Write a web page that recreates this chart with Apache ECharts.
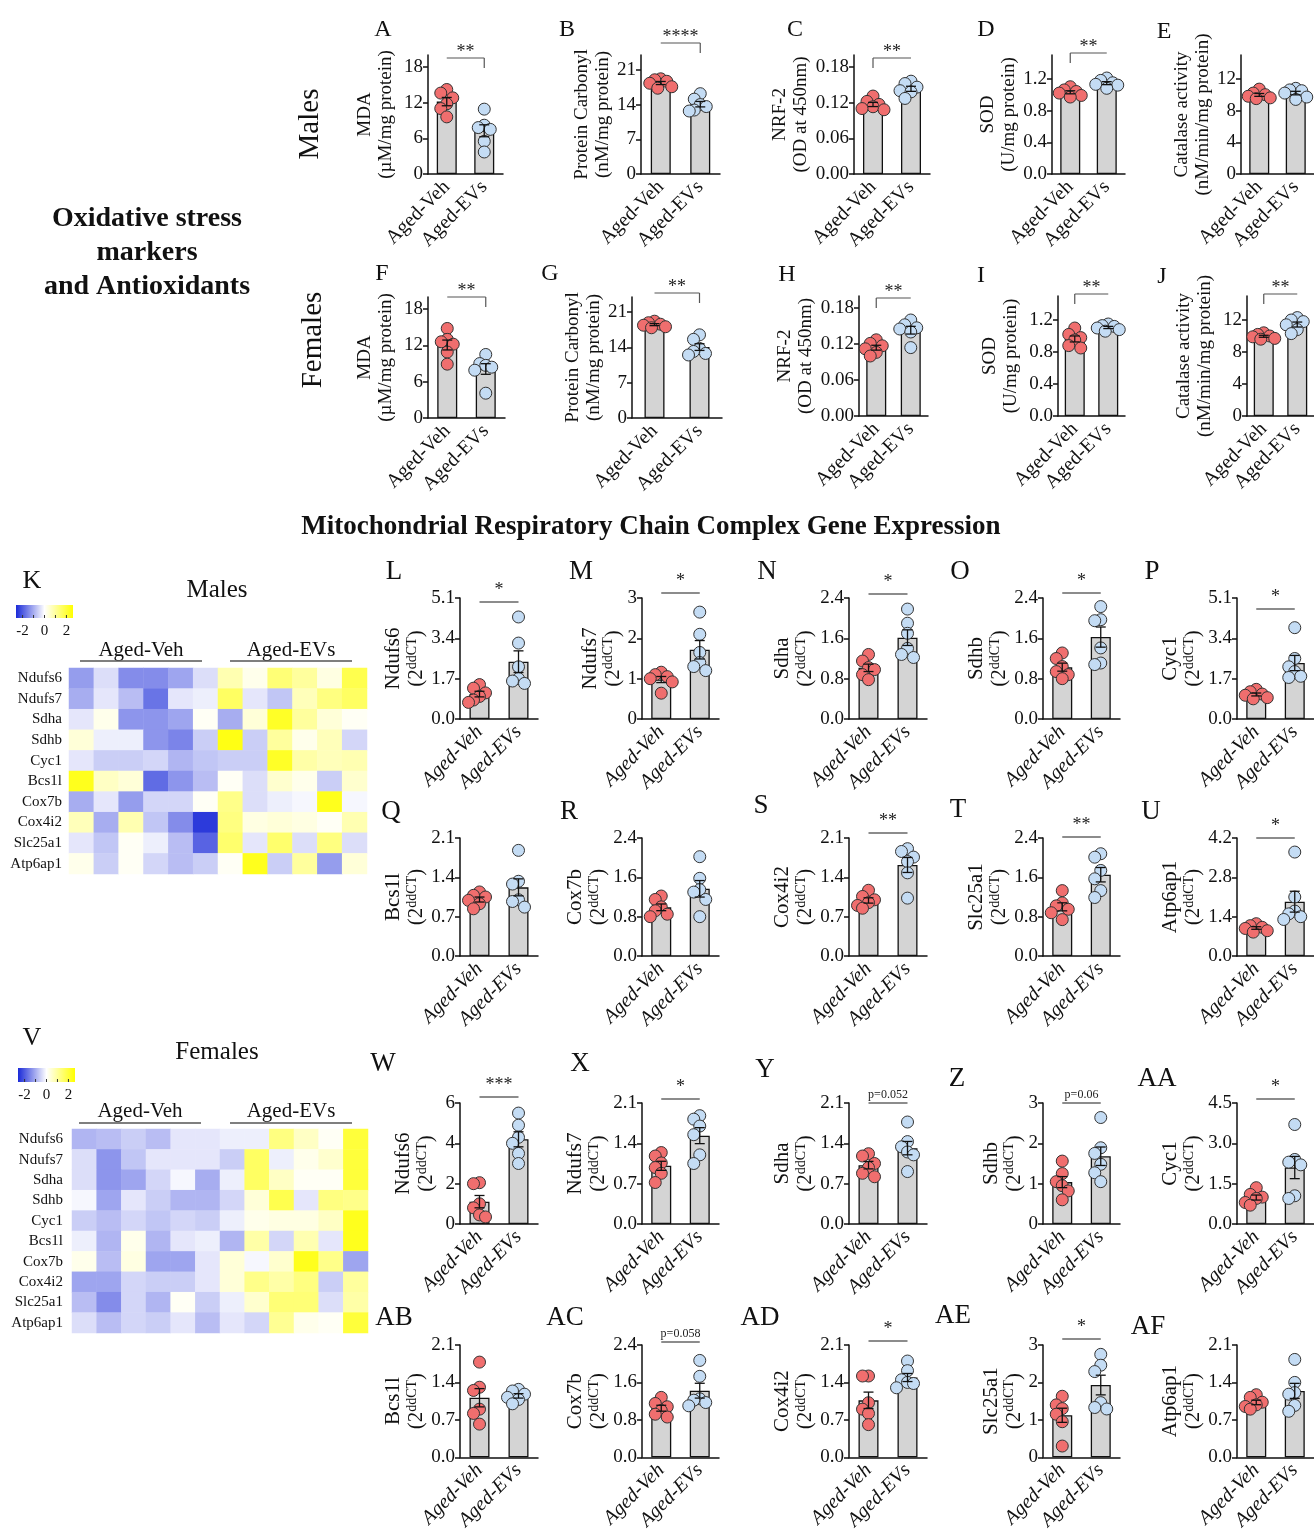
<!DOCTYPE html>
<html><head><meta charset="utf-8">
<script src="https://cdn.jsdelivr.net/npm/echarts@6/dist/echarts.min.js"></script>
<style>html,body{margin:0;padding:0;background:#fff}#c{width:1314px;height:1533px}</style>
</head><body><div id="c"></div>
<script>
// ---------------- DATA ----------------
const groups = ['Aged-Veh', 'Aged-EVs'];
const oxMeasures = ['MDA', 'Protein Carbonyl', 'NRF-2', 'SOD', 'Catalase activity'];
const oxUnits = ['(µM/mg protein)', '(nM/mg protein)', '(OD at 450nm)', '(U/mg protein)', '(nM/min/mg protein)'];
const genes = ['Ndufs6', 'Ndufs7', 'Sdha', 'Sdhb', 'Cyc1', 'Bcs1l', 'Cox7b', 'Cox4i2', 'Slc25a1', 'Atp6ap1'];
const panelLetters = ['A','B','C','D','E','F','G','H','I','J','L','M','N','O','P','Q','R','S','T','U','W','X','Y','Z','AA','AB','AC','AD','AE','AF'];

// Oxidative stress – males
const A_veh = [14.2, 13.6, 12.8, 11.8, 11.0, 9.6];   const A_evs = [10.9, 8.2, 7.8, 7.5, 5.5, 3.7];
const B_veh = [19.2, 19.0, 18.7, 18.3, 17.6, 17.3];  const B_evs = [16.2, 15.1, 14.0, 13.6, 12.9, 12.7];
const C_veh = [0.131, 0.122, 0.117, 0.113, 0.110, 0.108]; const C_evs = [0.156, 0.152, 0.146, 0.140, 0.138, 0.127];
const D_veh = [1.10, 1.06, 1.04, 1.02, 0.99, 0.97];  const D_evs = [1.21, 1.18, 1.15, 1.13, 1.12, 1.08];
const E_veh = [10.7, 10.2, 10.0, 9.8, 9.6, 9.5];     const E_evs = [10.8, 10.6, 10.5, 10.2, 9.7, 9.4];
// Oxidative stress – females
const F_veh = [14.8, 13.0, 12.6, 12.2, 10.9, 8.9];   const F_evs = [10.5, 9.0, 8.7, 8.4, 7.9, 4.1];
const G_veh = [19.2, 18.9, 18.6, 18.4, 18.1, 17.9];  const G_evs = [16.5, 15.6, 13.8, 13.2, 12.8, 12.5];
const H_veh = [0.127, 0.121, 0.117, 0.112, 0.106, 0.100]; const H_evs = [0.160, 0.152, 0.147, 0.145, 0.140, 0.114];
const I_veh = [1.10, 1.02, 0.98, 0.95, 0.88, 0.85];  const I_evs = [1.15, 1.13, 1.12, 1.10, 1.08, 1.06];
const J_veh = [10.4, 10.2, 10.0, 9.9, 9.7, 9.6];     const J_evs = [12.3, 12.0, 11.8, 11.4, 10.8, 10.3];
// Gene expression – males
const L_veh = [1.45, 1.30, 1.10, 0.95, 0.80, 0.70];  const L_evs = [4.3, 3.2, 2.2, 1.7, 1.5, 1.6];
const M_veh = [1.16, 1.10, 1.05, 1.00, 0.92, 0.64];  const M_evs = [2.65, 2.10, 1.65, 1.40, 1.30, 1.20];
const N_veh = [1.28, 1.15, 1.02, 0.98, 0.88, 0.78];  const N_evs = [2.18, 1.90, 1.70, 1.40, 1.28, 1.22];
const O_veh = [1.31, 1.20, 1.04, 0.94, 0.88, 0.80];  const O_evs = [2.23, 1.97, 1.95, 1.41, 1.11, 1.08];
const P_veh = [1.25, 1.15, 1.05, 1.00, 0.90, 0.85];  const P_evs = [3.85, 2.55, 2.20, 2.00, 1.80, 1.75];
const Q_veh = [1.14, 1.08, 1.05, 0.99, 0.93, 0.84];  const Q_evs = [1.88, 1.33, 1.28, 1.00, 0.97, 0.87];
const R_veh = [1.22, 1.15, 1.00, 0.92, 0.85, 0.80];  const R_evs = [2.02, 1.58, 1.35, 1.30, 1.15, 0.80];
const S_veh = [1.17, 1.06, 1.00, 0.95, 0.90, 0.85];  const S_evs = [1.91, 1.86, 1.76, 1.68, 1.48, 1.03];
const T_veh = [1.33, 1.08, 1.02, 0.95, 0.88, 0.74];  const T_evs = [2.08, 2.01, 1.74, 1.57, 1.33, 1.19];
const U_veh = [1.15, 1.08, 1.02, 0.98, 0.90, 0.85];  const U_evs = [3.7, 2.1, 1.6, 1.5, 1.4, 1.3];
// Gene expression – females
const W_veh = [2.05, 2.00, 1.00, 0.80, 0.45, 0.35];  const W_evs = [5.5, 4.9, 4.3, 4.0, 3.5, 3.0];
const X_veh = [1.24, 1.18, 1.06, 0.98, 0.88, 0.72];  const X_evs = [1.88, 1.82, 1.70, 1.55, 1.20, 1.05];
const Y_veh = [1.22, 1.18, 1.05, 0.98, 0.88, 0.82];  const Y_evs = [1.77, 1.43, 1.34, 1.25, 1.20, 0.91];
const Z_veh = [1.56, 1.25, 1.05, 0.95, 0.82, 0.60];  const Z_evs = [2.64, 1.89, 1.75, 1.48, 1.27, 1.05];
const AA_veh = [1.35, 1.10, 1.00, 0.95, 0.80, 0.70]; const AA_evs = [3.7, 2.4, 2.3, 2.2, 1.05, 0.95];
const AB_veh = [1.78, 1.31, 1.25, 0.90, 0.82, 0.62]; const AB_evs = [1.27, 1.24, 1.18, 1.12, 1.08, 1.00];
const AC_veh = [1.28, 1.15, 1.08, 1.00, 0.92, 0.86]; const AC_evs = [2.07, 1.73, 1.25, 1.22, 1.17, 1.10];
const AD_veh = [1.52, 1.52, 1.02, 0.90, 0.82, 0.61]; const AD_evs = [1.80, 1.62, 1.45, 1.40, 1.38, 1.30];
const AE_veh = [1.63, 1.40, 1.30, 1.15, 0.95, 0.30]; const AE_evs = [2.75, 2.46, 2.29, 1.46, 1.33, 1.29];
const AF_veh = [1.17, 1.12, 1.03, 0.98, 0.95, 0.90]; const AF_evs = [1.83, 1.40, 1.21, 1.18, 0.97, 0.86];

// tick labels
const T_mda = ['0','6','12','18'];
const T_pc  = ['0','7','14','21'];
const T_nrf = ['0.00','0.06','0.12','0.18'];
const T_sod = ['0.0','0.4','0.8','1.2'];
const T_cat = ['0','4','8','12'];
const T_51  = ['0.0','1.7','3.4','5.1'];
const T_3   = ['0','1','2','3'];
const T_24  = ['0.0','0.8','1.6','2.4'];
const T_21  = ['0.0','0.7','1.4','2.1'];
const T_42  = ['0.0','1.4','2.8','4.2'];
const T_6   = ['0','2','4','6'];
const T_45  = ['0.0','1.5','3.0','4.5'];

const yTickSets = [T_mda,T_pc,T_nrf,T_sod,T_cat, T_mda,T_pc,T_nrf,T_sod,T_cat,
  T_51,T_3,T_24,T_24,T_51, T_21,T_24,T_21,T_24,T_42, T_6,T_21,T_21,T_3,T_45, T_21,T_24,T_21,T_3,T_21];
const yMaxes = [20,24,0.2,1.5,15, 20,24,0.2,1.5,15, 5.1,3,2.4,2.4,5.1, 2.1,2.4,2.1,2.4,4.2, 6,2.1,2.1,3,4.5, 2.1,2.4,2.1,3,2.1];
const sigMarks = ['**','****','**','**','', '**','**','**','**','**',
  '*','*','*','*','*', '','','**','**','*', '***','*','p=0.052','p=0.06','*', '','p=0.058','*','*',''];

const vehSets = [A_veh,B_veh,C_veh,D_veh,E_veh,F_veh,G_veh,H_veh,I_veh,J_veh,L_veh,M_veh,N_veh,O_veh,P_veh,Q_veh,R_veh,S_veh,T_veh,U_veh,W_veh,X_veh,Y_veh,Z_veh,AA_veh,AB_veh,AC_veh,AD_veh,AE_veh,AF_veh];
const evsSets = [A_evs,B_evs,C_evs,D_evs,E_evs,F_evs,G_evs,H_evs,I_evs,J_evs,L_evs,M_evs,N_evs,O_evs,P_evs,Q_evs,R_evs,S_evs,T_evs,U_evs,W_evs,X_evs,Y_evs,Z_evs,AA_evs,AB_evs,AC_evs,AD_evs,AE_evs,AF_evs];

// heatmaps (z-scores), rows = genes, cols = 6 Aged-Veh + 6 Aged-EVs
const maleHeat = [
  [-1.2,-0.4,-1.4,-1.4,-1.1,-0.4, 0.8, 0.2, 1.4, 1.0, 0.3, 1.8],
  [-1.0,-0.3,-0.8,-1.7,-0.3,-0.2, 1.6,-0.3,-0.7, 0.7, 1.3, 1.6],
  [-0.3, 0.2,-1.3,-1.3,-1.1, 0.1,-1.0, 0.4, 2.2, 1.0, 0.4, 0.1],
  [ 0.4,-0.2,-0.2,-1.3,-1.5,-0.6, 2.4,-0.6, 1.0, 0.2, 0.7,-0.5],
  [-0.3,-0.6,-0.6,-0.5,-0.9,-0.7,-0.6,-0.6, 2.2, 0.9, 0.7, 0.8],
  [ 2.3, 0.6, 0.4,-1.8,-1.3,-0.8, 0.1,-0.4, 0.5, 0.2,-0.6, 0.5],
  [-1.0,-0.3,-1.2,-0.5,-0.5, 0.1, 1.2,-0.4,-0.2,-0.1, 2.3,-0.1],
  [ 0.7,-1.0, 0.8,-0.7,-1.4,-2.4, 1.3, 0.3, 0.4, 0.3, 0.1, 0.8],
  [-0.3,-0.7, 0.1,-0.2,-0.8,-1.9, 1.5,-0.3, 1.5,-0.4, 1.3,-0.4],
  [ 0.2,-0.6, 0.1,-0.5,-0.8,-0.6, 0.1, 2.3,-0.6, 1.0,-1.2, 0.4]
];
const femaleHeat = [
  [-0.9,-0.8,-0.6,-0.8,-0.3,-0.3,-0.2,-0.2, 1.3, 0.6, 0.1, 2.0],
  [-0.4,-1.3,-0.7,-0.3,-0.3,-0.3,-0.6, 1.6,-0.2, 0.2, 0.5, 2.0],
  [-0.4,-1.3,-1.1,-0.5,-0.1,-1.0,-0.2, 1.6, 0.6, 0.1, 0.1, 2.0],
  [-0.1,-1.1,-0.3,-0.6,-0.9,-0.9,-0.5, 0.4, 1.8,-0.3, 1.3, 1.2],
  [-0.6,-0.8,-0.5,-0.7,-0.5,-0.6,-0.2, 0.2, 0.3, 0.3, 0.6, 2.3],
  [-0.2,-0.9, 0.2,-0.9,-0.3,-0.2,-0.9, 0.9,-0.5, 0.8,-0.3, 2.3],
  [ 0.2,-0.8, 0.3,-1.1,-1.1,-0.3, 0.4,-0.1, 0.5, 2.3, 1.2,-1.1],
  [-1.1,-1.1,-0.5,-0.6,-0.6,-0.3, 0.4, 1.2, 0.9, 1.3,-0.6, 1.0],
  [-0.8,-1.4,-0.5,-0.9, 0.1,-0.6,-0.2, 0.5, 1.4, 1.4,-0.4, 0.9],
  [-0.4,-0.8,-0.5,-0.6,-0.3,-0.8,-0.3,-0.5, 1.1, 0.2, 0.1, 2.0]
];
const heatTicks = ['-2', '0', '2'];

// ---------------- LAYOUT (pixels) ----------------
// [axisX, rightX, topY, bottomY, nameGap, bracketLift, letterX, letterY]
const layout = [
  [428,503,55,174,31,-3,383,30],[641,720,55,174,24,12,567,30],[854,930,55,174,40,-3,795,30],[1052,1125,55,174,32,2,986,30],[1241,1314,55,174,27,0,1164,32],
  [428,505,297,418,31,0,382,274],[632,722,297,418,24,4,550,274],[859,928,296,416,42,-2,787,275],[1058,1125,296,416,36,2,981,276],[1247,1314,296,416,31,2,1162,277],
  [460,538,598,719,22,-4,394,572],[642,719,598,719,12,5,581,572],[849,927,598,719,14,4,767,572],[1043,1120,598,719,16,5,960,572],[1237,1314,598,719,17,-11,1152,572],
  [460,538,838,956,22,0,391,812],[642,719,838,956,23,0,569,812],[849,927,838,956,14,5,761,806],[1043,1120,838,956,16,1,958,810],[1237,1314,838,956,17,0,1151,812],
  [460,538,1103,1224,22,6,383,1064],[642,719,1103,1224,23,4,580,1064],[849,927,1103,1224,14,0,765,1070],[1043,1120,1103,1224,10,0,957,1079],[1237,1314,1103,1224,17,4,1157,1079],
  [460,538,1345,1465,22,0,394,1318],[642,719,1345,1465,23,3,565,1318],[849,927,1345,1465,14,4,760,1318],[1043,1120,1345,1465,10,6,953,1316],[1237,1314,1345,1465,17,0,1148,1327]
];

const SERIF = "'Liberation Serif', 'Times New Roman', serif";
const INK = '#111';
const RED = '#f06e6e', BLUE = '#c4dcf4';

const meanOf = a => a.reduce((s, v) => s + v, 0) / a.length;
const semOf = a => { const m = meanOf(a); return Math.sqrt(a.reduce((s, v) => s + (v - m) ** 2, 0) / (a.length - 1)) / Math.sqrt(a.length); };
function swarm(vals, pxPerUnit) {
  const order = vals.map((v, i) => i).sort((a, b) => vals[b] - vals[a]);
  const offs = new Array(vals.length).fill(0);
  const seq = [0, -6, 6, -11, 11, -3, 3];
  const placed = [];
  order.forEach(i => {
    const used = placed.filter(j => Math.abs(vals[i] - vals[j]) * pxPerUnit < 10).map(j => offs[j]);
    const o = seq.find(s => !used.includes(s));
    offs[i] = o === undefined ? 0 : o;
    placed.push(i);
  });
  return offs;
}

const grids = [], xAxes = [], yAxes = [], series = [], graphics = [];
const axisStyle = { color: INK, width: 1.5 };

panelLetters.forEach((letter, k) => {
  const L = layout[k];
  const isTop = k < 10;
  const veh = vehSets[k], evs = evsSets[k];
  const ticksTxt = yTickSets[k];
  const ticks = ticksTxt.map(Number);
  const yMax = yMaxes[k];
  const h = L[3] - L[2];
  grids.push({ left: L[0], top: L[2], width: L[1] - L[0], height: h });
  xAxes.push({
    gridIndex: k, type: 'category', data: groups, boundaryGap: true,
    axisLine: { lineStyle: axisStyle },
    axisTick: { alignWithLabel: true, length: 5, lineStyle: axisStyle },
    axisLabel: { interval: 0, rotate: 45, margin: 10, color: INK, fontFamily: SERIF, fontSize: 20, fontStyle: isTop ? 'normal' : 'italic' }
  });
  let name, nameTextStyle;
  if (isTop) {
    const i = k % 5;
    name = oxMeasures[i] + '\n' + oxUnits[i];
    nameTextStyle = { color: INK, fontFamily: SERIF, fontSize: 19, lineHeight: 21 };
  } else {
    const g = genes[(k - 10) % 10];
    name = '{a|' + g + '}\n{a|(2}{s|ddCT}{a|)}';
    nameTextStyle = { color: INK, fontFamily: SERIF, rich: {
      a: { fontSize: 21, fontFamily: SERIF, color: INK, lineHeight: 23 },
      s: { fontSize: 14, fontFamily: SERIF, color: INK, lineHeight: 12, verticalAlign: 'top' } } };
  }
  yAxes.push({
    gridIndex: k, type: 'value', min: 0, max: yMax,
    axisLine: { show: true, lineStyle: axisStyle },
    axisTick: { show: true, length: 5, lineStyle: axisStyle, customValues: ticks },
    axisLabel: { customValues: ticks, margin: 5, color: INK, fontFamily: SERIF, fontSize: 19,
      formatter: v => { const j = ticks.findIndex(t => Math.abs(t - v) < 1e-9); return j >= 0 ? ticksTxt[j] : ''; } },
    splitLine: { show: false },
    name, nameLocation: 'middle', nameGap: L[4], nameTextStyle
  });
  const means = [meanOf(veh), meanOf(evs)];
  const sems = [semOf(veh), semOf(evs)];
  series.push({
    type: 'bar', xAxisIndex: k, yAxisIndex: k, data: means, barWidth: 20, silent: true, z: 2,
    itemStyle: { color: '#d4d4d4', borderColor: INK, borderWidth: 1.3 }
  });
  const ppu = h / yMax;
  const offV = swarm(veh, ppu), offE = swarm(evs, ppu);
  const dots = [];
  veh.forEach((v, i) => dots.push({ value: [0, v], symbolOffset: [offV[i], 0], itemStyle: { color: RED } }));
  evs.forEach((v, i) => dots.push({ value: [1, v], symbolOffset: [offE[i], 0], itemStyle: { color: BLUE } }));
  series.push({
    type: 'scatter', xAxisIndex: k, yAxisIndex: k, data: dots, symbolSize: 12, silent: true, z: 3,
    itemStyle: { borderColor: '#333', borderWidth: 1, opacity: 1 }
  });
  const meta = { sig: sigMarks[k], max: yMax, lift: L[5], isTop, means };
  series.push({
    type: 'custom', xAxisIndex: k, yAxisIndex: k, silent: true, z: 4, clip: false,
    encode: { x: 0, y: 1 },
    data: [[0, means[0], sems[0]], [1, means[1], sems[1]]],
    renderItem: (params, api) => {
      const x = api.value(0), m = api.value(1), s = api.value(2);
      const pt = api.coord([x, m + s]), pb = api.coord([x, m - s]);
      const st = { stroke: INK, lineWidth: 1.3 };
      const cap = 5;
      const ch = [
        { type: 'line', shape: { x1: pt[0], y1: pt[1], x2: pb[0], y2: pb[1] }, style: st },
        { type: 'line', shape: { x1: pt[0] - cap, y1: pt[1], x2: pt[0] + cap, y2: pt[1] }, style: st },
        { type: 'line', shape: { x1: pb[0] - cap, y1: pb[1], x2: pb[0] + cap, y2: pb[1] }, style: st }
      ];
      if (params.dataIndex === 0 && meta.sig) {
        const a = api.coord([0, meta.max]), b = api.coord([1, meta.max]);
        const y = a[1] - meta.lift;
        const bs = { stroke: meta.isTop ? '#555' : '#8c8c8c', lineWidth: meta.isTop ? 1.2 : 1.8 };
        ch.push({ type: 'line', shape: { x1: a[0], y1: y, x2: b[0], y2: y }, style: bs });
        if (meta.isTop) {
          const dx = meta.means[0] < meta.means[1] ? a[0] : b[0];
          ch.push({ type: 'line', shape: { x1: dx, y1: y, x2: dx, y2: y + 10 }, style: bs });
        }
        const isP = meta.sig.charAt(0) === 'p';
        const ty = isP ? y - 8 : y - (meta.isTop ? 9 : 15) + 3.5;
        ch.push({ type: 'text', style: { text: meta.sig, x: (a[0] + b[0]) / 2, y: ty,
          textAlign: 'center', textVerticalAlign: 'middle', align: 'center', verticalAlign: 'middle',
          font: (isP ? '12px ' : '18px ') + SERIF, fill: '#222' } });
      }
      return { type: 'group', children: ch };
    }
  });
  graphics.push({ type: 'text', x: L[6], y: L[7], silent: true,
    style: { text: letter, font: (isTop ? '24px ' : '27px ') + SERIF, fill: INK,
      textAlign: 'center', textVerticalAlign: 'middle', align: 'center', verticalAlign: 'middle' } });
});

// ---------------- HEATMAPS ----------------
const heatLayouts = [
  { left: 69, top: 668, width: 298, height: 206, margin: 7, title: 'Males', letter: 'K', tx: 217, ty: 590, lx: 32, ly: 581, cb: [16, 73, 605, 618], cby: 631, gx: [141, 291], gy: 650, uy: 661 },
  { left: 72, top: 1129, width: 296, height: 204, margin: 9, title: 'Females', letter: 'V', tx: 217, ty: 1052, lx: 32, ly: 1038, cb: [18, 75, 1068, 1082], cby: 1095, gx: [140, 291], gy: 1111, uy: 1123 }
];
const HMIN = -2.6, HMAX = 2.6;
const HEAT_COLORS = ['#1a2ad8', '#ffffff', '#ffff00'];
const heatSeriesIdx = [];
[maleHeat, femaleHeat].forEach((mat, hi) => {
  const H = heatLayouts[hi];
  const gi = 30 + hi;
  grids.push({ left: H.left, top: H.top, width: H.width, height: H.height });
  xAxes.push({ gridIndex: gi, type: 'category', data: mat[0].map((v, i) => String(i + 1)), show: false });
  yAxes.push({ gridIndex: gi, type: 'category', data: genes, inverse: true,
    axisLine: { show: false }, axisTick: { show: false }, splitLine: { show: false },
    axisLabel: { color: INK, fontFamily: SERIF, fontSize: 15, margin: H.margin } });
  const data = [];
  mat.forEach((row, r) => row.forEach((v, c) => data.push([c, r, v])));
  heatSeriesIdx.push(series.length);
  series.push({ type: 'heatmap', xAxisIndex: gi, yAxisIndex: gi, data, silent: true, itemStyle: { borderWidth: 0 }, emphasis: { disabled: true } });

  graphics.push({ type: 'text', x: H.tx, y: H.ty, silent: true, style: { text: H.title, font: '25px ' + SERIF, fill: INK, textAlign: 'center', textVerticalAlign: 'middle', align: 'center', verticalAlign: 'middle' } });
  graphics.push({ type: 'text', x: H.lx, y: H.ly, silent: true, style: { text: H.letter, font: '26px ' + SERIF, fill: INK, textAlign: 'center', textVerticalAlign: 'middle', align: 'center', verticalAlign: 'middle' } });
  // colorbar
  const [x0, x1, y0, y1] = H.cb;
  graphics.push({ type: 'rect', silent: true, shape: { x: x0, y: y0, width: x1 - x0, height: y1 - y0 },
    style: { fill: new echarts.graphic.LinearGradient(0, 0, 1, 0, [
      { offset: 0, color: HEAT_COLORS[0] }, { offset: 0.5, color: HEAT_COLORS[1] }, { offset: 1, color: HEAT_COLORS[2] }]) } });
  [-2, -1, 0, 1, 2].forEach(v => {
    const xx = x0 + (v - HMIN) / (HMAX - HMIN) * (x1 - x0);
    graphics.push({ type: 'line', silent: true, shape: { x1: xx, y1: y1 - 3, x2: xx, y2: y1 }, style: { stroke: '#333', lineWidth: 1 } });
  });
  heatTicks.forEach(t => {
    const xx = x0 + (Number(t) - HMIN) / (HMAX - HMIN) * (x1 - x0);
    graphics.push({ type: 'text', x: xx, y: H.cby, silent: true, style: { text: t, font: '15px ' + SERIF, fill: INK, textAlign: 'center', textVerticalAlign: 'middle', align: 'center', verticalAlign: 'middle' } });
  });
  groups.forEach((g, gi2) => {
    const cx = H.gx[gi2];
    graphics.push({ type: 'text', x: cx, y: H.gy, silent: true, style: { text: g, font: '21px ' + SERIF, fill: INK, textAlign: 'center', textVerticalAlign: 'middle', align: 'center', verticalAlign: 'middle' } });
    graphics.push({ type: 'line', silent: true, shape: { x1: cx - 61, y1: H.uy, x2: cx + 61, y2: H.uy }, style: { stroke: '#555', lineWidth: 1.3 } });
  });
});

// ---------------- Titles ----------------
graphics.push({ type: 'text', x: 147, y: 253, silent: true, style: { text: 'Oxidative stress\nmarkers\nand Antioxidants', font: 'bold 28px ' + SERIF, lineHeight: 34, fill: INK, textAlign: 'center', textVerticalAlign: 'middle', align: 'center', verticalAlign: 'middle' } });
graphics.push({ type: 'text', x: 310, y: 124, rotation: Math.PI / 2, silent: true, style: { text: 'Males', font: '29px ' + SERIF, fill: INK, textAlign: 'center', textVerticalAlign: 'middle', align: 'center', verticalAlign: 'middle' } });
graphics.push({ type: 'text', x: 313, y: 340, rotation: Math.PI / 2, silent: true, style: { text: 'Females', font: '29px ' + SERIF, fill: INK, textAlign: 'center', textVerticalAlign: 'middle', align: 'center', verticalAlign: 'middle' } });
graphics.push({ type: 'text', x: 651, y: 527, silent: true, style: { text: 'Mitochondrial Respiratory Chain Complex Gene Expression', font: 'bold 27px ' + SERIF, fill: INK, textAlign: 'center', textVerticalAlign: 'middle', align: 'center', verticalAlign: 'middle' } });

const chart = echarts.init(document.getElementById('c'), null, { renderer: 'canvas', width: 1314, height: 1533 });
chart.setOption({
  animation: false,
  backgroundColor: '#fff',
  grid: grids, xAxis: xAxes, yAxis: yAxes,
  visualMap: [{ type: 'continuous', show: false, min: HMIN, max: HMAX, dimension: 2, seriesIndex: heatSeriesIdx,
    inRange: { color: HEAT_COLORS } }],
  series,
  graphic: { elements: graphics }
});
</script></body></html>
